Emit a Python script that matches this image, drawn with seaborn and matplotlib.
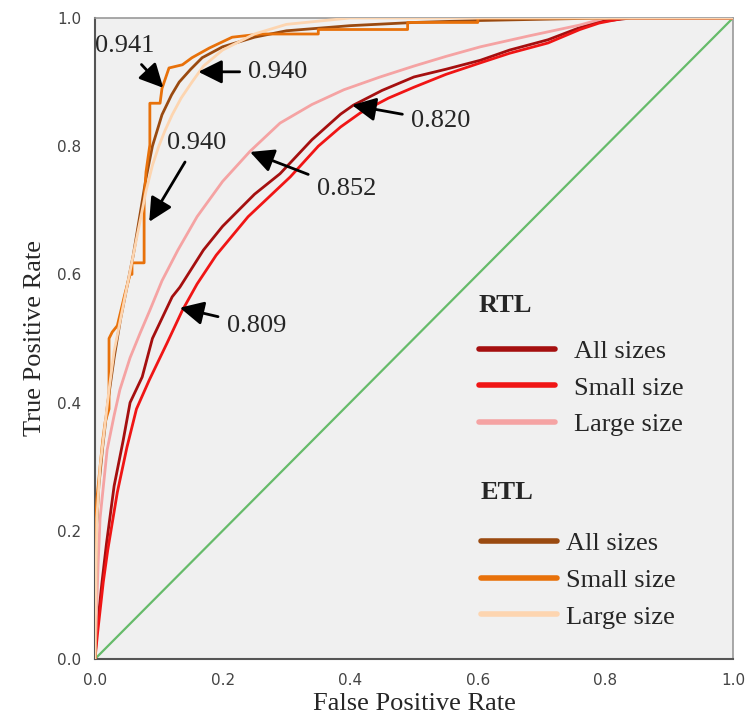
import numpy as np
import pandas as pd
import seaborn as sns
import matplotlib.pyplot as plt
from matplotlib.lines import Line2D

# ROC curves (FPR, TPR)
rtl_all_fpr = [0, 0.003, 0.011, 0.018, 0.03, 0.044, 0.055, 0.074, 0.09, 0.121, 0.133, 0.17, 0.2,
               0.25, 0.29, 0.34, 0.385, 0.405, 0.45, 0.5, 0.55, 0.604, 0.65, 0.71, 0.76, 0.79, 0.84, 1.0]
rtl_all_tpr = [0, 0.045, 0.12, 0.18, 0.27, 0.34, 0.40, 0.44, 0.50, 0.565, 0.58, 0.638, 0.675,
               0.725, 0.757, 0.81, 0.85, 0.864, 0.887, 0.908, 0.92, 0.934, 0.95, 0.966, 0.985, 0.994, 1.0, 1.0]

rtl_small_fpr = [0, 0.004, 0.013, 0.02, 0.035, 0.05, 0.065, 0.085, 0.113, 0.137, 0.16, 0.19, 0.24,
                 0.306, 0.35, 0.385, 0.416, 0.46, 0.5, 0.55, 0.604, 0.65, 0.71, 0.76, 0.79, 0.83, 1.0]
rtl_small_tpr = [0, 0.04, 0.12, 0.17, 0.26, 0.33, 0.39, 0.435, 0.493, 0.544, 0.585, 0.63, 0.69,
                 0.752, 0.80, 0.83, 0.852, 0.875, 0.892, 0.912, 0.93, 0.945, 0.961, 0.982, 0.992, 1.0, 1.0]

rtl_large_fpr = [0, 0.002, 0.005, 0.008, 0.019, 0.03, 0.039, 0.055, 0.071, 0.086, 0.105, 0.13, 0.16,
                 0.2, 0.243, 0.29, 0.34, 0.39, 0.447, 0.5, 0.55, 0.604, 0.68, 0.76, 0.8, 1.0]
rtl_large_tpr = [0, 0.06, 0.15, 0.22, 0.326, 0.38, 0.42, 0.47, 0.509, 0.544, 0.59, 0.638, 0.69,
                 0.745, 0.792, 0.836, 0.865, 0.888, 0.908, 0.925, 0.94, 0.955, 0.972, 0.989, 1.0, 1.0]

etl_all_fpr = [0, 0.002, 0.006, 0.012, 0.02, 0.03, 0.04, 0.05, 0.06, 0.07, 0.08, 0.09, 0.105, 0.12,
               0.132, 0.15, 0.168, 0.2, 0.25, 0.3, 0.4, 0.5, 0.6, 0.7, 0.8, 1.0]
etl_all_tpr = [0, 0.2, 0.27, 0.33, 0.4, 0.47, 0.53, 0.58, 0.63, 0.69, 0.75, 0.8, 0.849, 0.88,
               0.9, 0.92, 0.938, 0.955, 0.97, 0.98, 0.988, 0.993, 0.996, 0.998, 1.0, 1.0]

etl_small_fpr = [0, 0, 0.003, 0.008, 0.012, 0.016, 0.022, 0.022, 0.027, 0.035, 0.047, 0.055, 0.058,
                 0.058, 0.077, 0.077, 0.08, 0.086, 0.086, 0.102, 0.105, 0.116, 0.137, 0.152, 0.179,
                 0.215, 0.26, 0.35, 0.35, 0.49, 0.49, 0.6, 0.6, 1.0]
etl_small_tpr = [0, 0.2, 0.25, 0.3, 0.34, 0.37, 0.39, 0.5, 0.51, 0.52, 0.57, 0.6, 0.6,
                 0.618, 0.618, 0.716, 0.76, 0.802, 0.867, 0.867, 0.89, 0.922, 0.927, 0.938, 0.953,
                 0.97, 0.975, 0.975, 0.982, 0.982, 0.993, 0.993, 1.0, 1.0]

etl_large_fpr = [0, 0.003, 0.008, 0.015, 0.022, 0.03, 0.04, 0.05, 0.06, 0.07, 0.08, 0.09, 0.1, 0.11,
                 0.121, 0.135, 0.152, 0.17, 0.2, 0.25, 0.3, 0.4, 1.0]
etl_large_tpr = [0, 0.22, 0.3, 0.36, 0.42, 0.48, 0.53, 0.58, 0.63, 0.68, 0.73, 0.77, 0.8, 0.825,
                 0.849, 0.875, 0.9, 0.925, 0.95, 0.975, 0.99, 1.0, 1.0]

curve_names = ['RTL All sizes', 'RTL Small size', 'RTL Large size',
               'ETL All sizes', 'ETL Small size', 'ETL Large size']
curve_colors = ['#a50f0f', '#f01515', '#f5a3a3', '#9a4a10', '#e8710a', '#fdd5b0']
legend_labels = ['All sizes', 'Small size', 'Large size']

# AUC labels: text, arrow tip (fpr, tpr), text position (fpr, tpr)
auc_text = ['0.941', '0.940', '0.940', '0.852', '0.820', '0.809']
auc_tip = [(0.107, 0.891), (0.162, 0.916), (0.085, 0.682), (0.243, 0.791), (0.403, 0.864), (0.133, 0.548)]
auc_pos = [(0.046, 0.956), (0.287, 0.916), (0.159, 0.805), (0.394, 0.733), (0.542, 0.839), (0.253, 0.52)]

curves = [(rtl_all_fpr, rtl_all_tpr), (rtl_small_fpr, rtl_small_tpr), (rtl_large_fpr, rtl_large_tpr),
          (etl_all_fpr, etl_all_tpr), (etl_small_fpr, etl_small_tpr), (etl_large_fpr, etl_large_tpr)]
frames = []
for name, (fx, ty) in zip(curve_names, curves):
    d = pd.DataFrame({'FPR': fx, 'TPR': ty})
    d['curve'] = name
    d['order'] = np.arange(len(fx))
    frames.append(d)
df = pd.concat(frames, ignore_index=True)

sns.set_style('white')
plt.rcParams['font.family'] = ['Liberation Serif', 'DejaVu Serif']

fig = plt.figure(figsize=(7.45, 7.16), dpi=100)
ax = fig.add_axes([0.1275, 0.0796, 0.8564, 0.8953])
ax.set_facecolor('#f0f0f0')

ax.plot([0, 1], [0, 1], color='#66bb6a', lw=1.6, zorder=1)

# draw lighter curves first so the darker ones sit on top
draw_order = [2, 1, 0, 5, 3, 4]
for i in draw_order:
    sub = df[df['curve'] == curve_names[i]]
    sns.lineplot(data=sub, x='FPR', y='TPR', sort=False, estimator=None,
                 color=curve_colors[i], lw=2.0, ax=ax, legend=False, zorder=2 + i)

for t, tip, pos in zip(auc_text, auc_tip, auc_pos):
    ax.annotate(t, xy=tip, xytext=pos, ha='center', va='center', fontsize=19,
                arrowprops=dict(arrowstyle='-|>,head_length=0.9,head_width=0.45',
                                color='black', lw=2, mutation_scale=16,
                                shrinkA=4, shrinkB=0), zorder=10)

ax.set_xlim(0, 1)
ax.set_ylim(0, 1)
ticks = [0.0, 0.2, 0.4, 0.6, 0.8, 1.0]
ax.set_xticks(ticks)
ax.set_yticks(ticks)
ax.set_xticklabels(['%.1f' % v for v in ticks], family='DejaVu Sans', fontsize=11, color='#444444')
ax.set_yticklabels(['%.1f' % v for v in ticks], family='DejaVu Sans', fontsize=11, color='#444444')
ax.tick_params(axis='both', direction='out', length=7, width=1.5, color='#444444', pad=3)
ax.set_xlabel('False Positive Rate', fontsize=19, labelpad=4)
ax.set_ylabel('True Positive Rate', fontsize=19, labelpad=8)
for side in ['left', 'bottom']:
    ax.spines[side].set_color('#555555')
    ax.spines[side].set_linewidth(1.5)
for side in ['top', 'right']:
    ax.spines[side].set_color('#999999')
    ax.spines[side].set_linewidth(1.2)

# two legend groups, each with a bold heading
ax.text(0.601, 0.552, 'RTL', transform=ax.transAxes, fontsize=19, fontweight='bold',
        ha='left', va='center')
ax.text(0.604, 0.2605, 'ETL', transform=ax.transAxes, fontsize=19, fontweight='bold',
        ha='left', va='center')
rtl_handles = [Line2D([0], [0], color=c, lw=4) for c in curve_colors[:3]]
etl_handles = [Line2D([0], [0], color=c, lw=4) for c in curve_colors[3:]]
leg1 = ax.legend(rtl_handles, legend_labels, loc='upper left',
                 bbox_to_anchor=(0.585, 0.515), frameon=False, fontsize=19,
                 handlelength=2.9, handletextpad=0.7, labelspacing=0.5, borderaxespad=0)
ax.add_artist(leg1)
ax.legend(etl_handles, legend_labels, loc='upper left',
          bbox_to_anchor=(0.588, 0.215), frameon=False, fontsize=19,
          handlelength=2.9, handletextpad=0.35, labelspacing=0.5, borderaxespad=0)

plt.savefig('out.png', dpi=100)
